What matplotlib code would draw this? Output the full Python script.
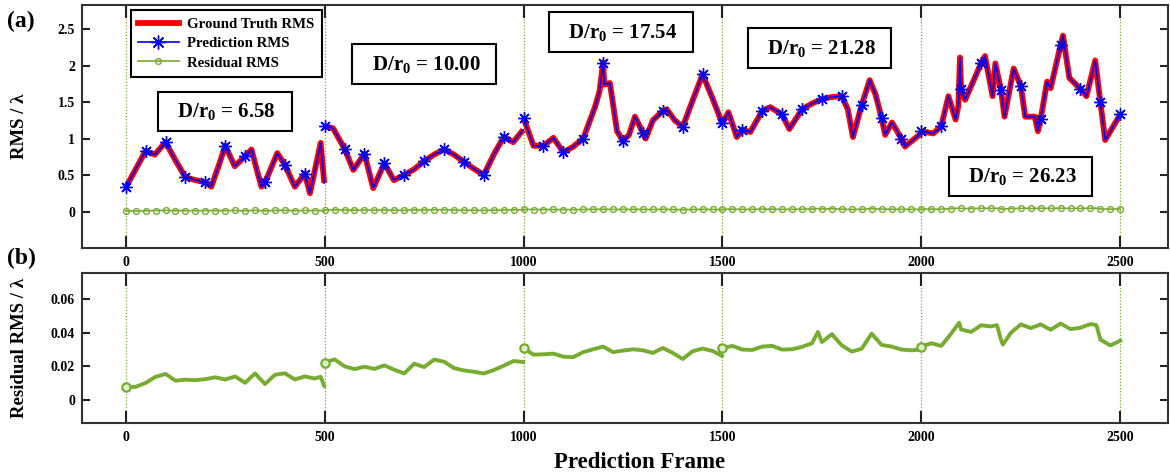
import matplotlib
matplotlib.use('Agg')
import matplotlib.pyplot as plt
from matplotlib.lines import Line2D
import numpy as np

plt.rcParams['font.family'] = ['Liberation Serif', 'DejaVu Serif']
plt.rcParams['font.weight'] = 'bold'
plt.rcParams['mathtext.fontset'] = 'custom'
plt.rcParams['mathtext.rm'] = 'Liberation Serif:bold'
plt.rcParams['mathtext.it'] = 'Liberation Serif:italic:bold'
plt.rcParams['mathtext.bf'] = 'Liberation Serif:bold'

# ---------------- data ----------------
segment_starts = [500, 1000, 1500, 2000]

gt_frames = [0, 25, 50, 73, 100, 125, 150, 175, 200, 215, 235, 250, 274, 300, 316, 328, 341, 350,
             381, 400, 425, 450, 463, 490, 499,
             500, 521, 550, 572, 600, 622, 650, 674, 700, 725, 750, 775, 800, 825, 850, 874, 900,
             925, 950, 974, 999,
             1000, 1025, 1050, 1075, 1100, 1125, 1150, 1165, 1180, 1191, 1200, 1203, 1217, 1235,
             1250, 1265, 1280, 1300, 1307, 1325, 1350, 1360, 1380, 1400, 1420, 1450, 1475, 1499,
             1500, 1515, 1536, 1550, 1570, 1600, 1620, 1650, 1668, 1700, 1725, 1750, 1775, 1800,
             1815, 1828, 1850, 1870, 1885, 1900, 1909, 1926, 1950, 1959, 1999,
             2000, 2030, 2050, 2068, 2086, 2093, 2097, 2100, 2110, 2150, 2160, 2179, 2186, 2200,
             2209, 2232, 2250, 2261, 2285, 2293, 2300, 2316, 2325, 2350, 2356, 2372, 2400, 2415,
             2437, 2450, 2462, 2500]
gt_rms = [0.33, 0.58, 0.83, 0.78, 0.95, 0.70, 0.47, 0.43, 0.40, 0.34, 0.65, 0.90, 0.62, 0.76, 0.85, 0.60, 0.34, 0.40,
          0.80, 0.64, 0.34, 0.52, 0.25, 0.94, 0.39,
          1.17, 1.14, 0.86, 0.57, 0.79, 0.32, 0.66, 0.43, 0.50, 0.58, 0.69, 0.78, 0.85, 0.78, 0.68, 0.59, 0.50,
          0.78, 1.02, 0.95, 1.12,
          1.28, 0.90, 0.90, 1.01, 0.81, 0.89, 1.00, 1.22, 1.44, 1.65, 2.04, 1.74, 1.76, 1.10,
          0.97, 1.05, 1.30, 1.08, 1.00, 1.25, 1.38, 1.40, 1.25, 1.16, 1.45, 1.88, 1.55, 1.21,
          1.21, 1.36, 1.02, 1.12, 1.09, 1.38, 1.43, 1.33, 1.13, 1.40, 1.48, 1.54, 1.57, 1.58,
          1.40, 1.02, 1.46, 1.80, 1.60, 1.28, 1.05, 1.22, 1.00, 0.89, 1.07,
          1.10, 1.07, 1.17, 1.58, 1.26, 1.45, 2.11, 1.68, 1.53, 2.03, 2.13, 1.58, 2.03, 1.67,
          1.30, 1.96, 1.72, 1.30, 1.30, 1.10, 1.27, 1.78, 1.69, 2.28, 2.41, 1.83, 1.68, 1.58,
          2.07, 1.50, 0.98, 1.33]
pred_rms = list(gt_rms)

res_frames = [0, 25, 50, 75, 100, 125, 150, 175, 200, 225, 250, 275, 300, 325, 350, 375, 400, 425, 450, 475, 490, 499,
              500, 525, 550, 575, 600, 625, 650, 675, 700, 725, 750, 775, 800, 825, 850, 875, 900, 925, 950, 975, 999,
              1000, 1025, 1050, 1075, 1100, 1125, 1150, 1175, 1200, 1225, 1250, 1275, 1300, 1325, 1350, 1375, 1400,
              1425, 1450, 1475, 1499,
              1500, 1525, 1550, 1575, 1600, 1625, 1650, 1675, 1700, 1725, 1740, 1750, 1775, 1800, 1825, 1850, 1875,
              1900, 1925, 1950, 1975, 1999,
              2000, 2025, 2050, 2075, 2095, 2100, 2125, 2150, 2175, 2190, 2200, 2205, 2225, 2250, 2275, 2300, 2325,
              2350, 2375, 2400, 2425, 2440, 2450, 2475, 2500]
res_rms = [0.0076, 0.0078, 0.0102, 0.0138, 0.0155, 0.0115, 0.0121, 0.0118, 0.0124, 0.0135, 0.0122, 0.0140, 0.0102,
           0.0158, 0.0095, 0.0150, 0.0159, 0.0122, 0.0140, 0.0128, 0.0138, 0.0083,
           0.0222, 0.0242, 0.0200, 0.0184, 0.0198, 0.0185, 0.0206, 0.0180, 0.0158, 0.0216, 0.0196, 0.0240, 0.0228,
           0.0190, 0.0176, 0.0168, 0.0158, 0.0178, 0.0204, 0.0232, 0.0226,
           0.0308, 0.0270, 0.0272, 0.0276, 0.0258, 0.0255, 0.0285, 0.0302, 0.0318, 0.0285, 0.0294, 0.0302, 0.0296,
           0.0280, 0.0310, 0.0280, 0.0244, 0.0290, 0.0306, 0.0292, 0.0262,
           0.0308, 0.0322, 0.0300, 0.0298, 0.0318, 0.0322, 0.0300, 0.0302, 0.0316, 0.0338, 0.0405, 0.0345, 0.0392,
           0.0325, 0.0288, 0.0305, 0.0395, 0.0328, 0.0318, 0.0300, 0.0296, 0.0300,
           0.0317, 0.0338, 0.0322, 0.0395, 0.0460, 0.0420, 0.0405, 0.0445, 0.0438, 0.0446, 0.0360, 0.0330, 0.0400,
           0.0450, 0.0428, 0.0450, 0.0418, 0.0455, 0.0422, 0.0430, 0.0452, 0.0446, 0.0360, 0.0325, 0.0353]

dr_labels = ['6.58', '10.00', '17.54', '21.28', '26.23']
dr_pos_x = [249, 750, 1245, 1744, 2249]
dr_pos_y = [1.37, 2.02, 2.46, 2.24, 0.48]

x_ticks = [0, 500, 1000, 1500, 2000, 2500]
y1_ticks = [0, 0.5, 1, 1.5, 2, 2.5]
y1_ticklabels = ['0', '0.5', '1', '1.5', '2', '2.5']
y2_ticks = [0, 0.02, 0.04, 0.06]
y2_ticklabels = ['0', '0.02', '0.04', '0.06']

RED = '#ff0000'
BLUE = '#0000ff'
GREEN = '#77ac30'
STAR = (8, 2, 0)


def segments(frames, vals):
    frames = np.asarray(frames, dtype=float)
    vals = np.asarray(vals, dtype=float)
    sid = np.searchsorted(segment_starts, frames, side='right')
    for s in np.unique(sid):
        m = sid == s
        yield frames[m], vals[m]


W, H = 1170, 476
fig = plt.figure(figsize=(W / 100, H / 100), dpi=100)
L, R = 82, 1168
ax1 = fig.add_axes([L / W, 1 - 248 / H, (R - L) / W, (248 - 5) / H])
ax2 = fig.add_axes([L / W, 1 - 423 / H, (R - L) / W, (423 - 273) / H])

for ax in (ax1, ax2):
    for xv in x_ticks:
        ax.axvline(xv, color=GREEN, ls=(0, (1, 1.5)), lw=0.9, zorder=0.5)

# top panel
for f, v in segments(gt_frames, gt_rms):
    ax1.plot(f, v, color=RED, lw=4.2, solid_capstyle='butt', solid_joinstyle='round', zorder=2)
for f, v in segments(gt_frames, pred_rms):
    idx = [i for i, fr in enumerate(f) if int(fr) % 50 == 0]
    ax1.plot(f, v, color=BLUE, lw=1.2, marker=STAR, markevery=idx, ms=9, mew=1.0,
             solid_joinstyle='round', zorder=3)
for f, v in segments(res_frames, res_rms):
    idx = [i for i, fr in enumerate(f) if int(fr) % 25 == 0]
    ax1.plot(f, v, color=GREEN, lw=1.2, marker='o', markevery=idx, ms=4.2, mfc='none', mew=1.0, zorder=2)

for lab, xx, yy in zip(dr_labels, dr_pos_x, dr_pos_y):
    ax1.text(xx, yy, '  D/r$_0$ = ' + lab + '  ', ha='center', va='center', fontsize=15, fontweight='bold',
             bbox=dict(boxstyle='square,pad=0.45', fc='white', ec='black', lw=1.5), zorder=5)

handles = [Line2D([], [], color=RED, lw=4.2),
           Line2D([], [], color=BLUE, lw=1.2, marker=STAR, ms=10, mew=1.0),
           Line2D([], [], color=GREEN, lw=1.2, marker='o', ms=4.2, mfc='none', mew=1.0)]
leg = ax1.legend(handles, ['Ground Truth RMS', 'Prediction RMS', 'Residual RMS'],
                 loc='upper left', bbox_to_anchor=((131 - L) / (R - L), 1 - (10 - 5) / 243),
                 fontsize=10.7, handlelength=2.7, handletextpad=0.6, borderpad=0.5, labelspacing=0.4,
                 fancybox=False, framealpha=1, edgecolor='black', borderaxespad=0)
leg.get_frame().set_linewidth(1.5)
leg.set_zorder(6)

ax1.set_xlim(-110, 2620)
ax1.set_ylim(-0.5, 2.83)
ax1.set_yticks(y1_ticks)
ax1.set_yticklabels(y1_ticklabels)
ax1.set_ylabel('RMS / λ', fontsize=13.5, fontweight='bold')

# bottom panel
for f, v in segments(res_frames, res_rms):
    ax2.plot(f, v, color=GREEN, lw=2.8, marker='o', markevery=[0], ms=6, mfc='#dfeecb', mew=1.6,
             solid_joinstyle='round', zorder=2)

ax2.set_xlim(-110, 2620)
ax2.set_ylim(-0.0137, 0.0756)
ax2.set_yticks(y2_ticks)
ax2.set_yticklabels(y2_ticklabels)
ax2.set_ylabel('Residual RMS / λ', fontsize=13.5, fontweight='bold')

for ax in (ax1, ax2):
    ax.set_xticks(x_ticks)
    ax.set_xticklabels([str(t) for t in x_ticks])
    ax.tick_params(axis='x', direction='in', length=9, width=1.5, top=True, bottom=True,
                   labelsize=10, pad=6, color='#222222')
    ax.tick_params(axis='y', direction='in', length=6, width=1.5, left=True, right=True,
                   labelsize=10, pad=5, color='#222222')
    for lbl in ax.get_xticklabels() + ax.get_yticklabels():
        lbl.set_fontweight('bold')
    for sp in ax.spines.values():
        sp.set_linewidth(1.5)
        sp.set_color('#333333')
    ax.yaxis.set_label_coords((28 - L) / (R - L), 0.5)

fig.text(640 / W, 1 - 463 / H, 'Prediction Frame', ha='center', va='center', fontsize=16.5, fontweight='bold')
fig.text(7 / W, 1 - 21 / H, '(a)', ha='left', va='center', fontsize=17, fontweight='bold')
fig.text(7 / W, 1 - 258 / H, '(b)', ha='left', va='center', fontsize=17, fontweight='bold')

fig.savefig('out.png', dpi=100)
